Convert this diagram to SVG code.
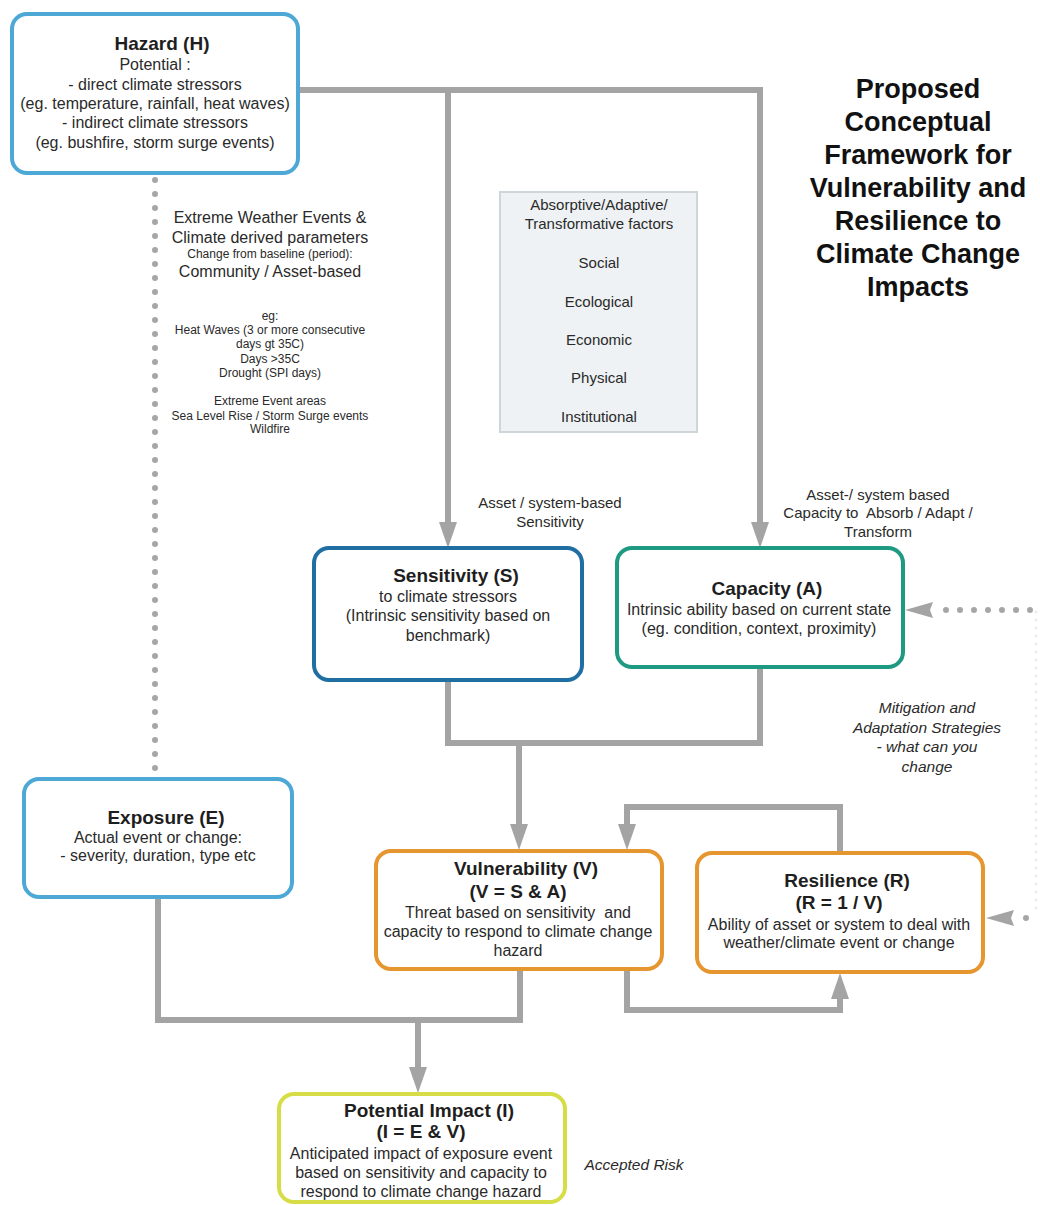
<svg xmlns="http://www.w3.org/2000/svg" width="1040" height="1205" viewBox="0 0 1040 1205">
  <style>
    text { font-family: "Liberation Sans", Arial, sans-serif; fill: #1e1e1e; text-anchor: middle; white-space: pre; }
    .t { font-size: 19px; font-weight: bold; }
    .b { font-size: 16px; fill: #2a2a2a; }
    .s { font-size: 12px; fill: #2a2a2a; }
    .f { font-size: 15px; fill: #2a2a2a; }
    .i { font-size: 15.5px; font-style: italic; fill: #2a2a2a; }
    .head { font-size: 27px; font-weight: bold; fill: #111; }
    .box { fill: #fff; stroke-width: 4; }
    .blue { stroke: #4ea8d6; }
    .navy { stroke: #1f6fa3; }
    .teal { stroke: #1e9a82; }
    .orange { stroke: #e6962f; }
    .lime { stroke: #d6dd46; }
    .wire { fill: none; stroke: #a4a4a4; stroke-width: 6; }
    .dots { fill: none; stroke: #a6a6a6; stroke-width: 6; stroke-linecap: round; stroke-dasharray: 0 14; }
    .faint { fill: none; stroke: #ececec; stroke-width: 3; stroke-linecap: round; stroke-dasharray: 0 8; }
  </style>
  <defs>
    <marker id="arrow" viewBox="0 0 26 18" refX="2" refY="9" markerWidth="26" markerHeight="18" markerUnits="userSpaceOnUse" orient="auto">
      <path d="M0,0 L26,9 L0,18 z" fill="#a4a4a4"/>
    </marker>
  </defs>

  <rect width="1040" height="1205" fill="#fff"/>

  <!-- connectors -->
  <g id="connectors">
    <path class="wire" d="M297,90 H760 V524" marker-end="url(#arrow)"/>
    <path class="wire" d="M448,90 V524" marker-end="url(#arrow)"/>
    <path class="wire" d="M448,680 V743 H760 V667"/>
    <path class="wire" d="M519,743 V826" marker-end="url(#arrow)"/>
    <path class="wire" d="M840,852 V807 H627 V826" marker-end="url(#arrow)"/>
    <path class="wire" d="M627,968 V1010 H840 V997" marker-end="url(#arrow)"/>
    <path class="wire" d="M158,897 V1020 H520 V968"/>
    <path class="wire" d="M418,1020 V1069" marker-end="url(#arrow)"/>
    <!-- dotted link hazard to exposure -->
    <path class="dots" d="M155,180 V774"/>
    <!-- faint dotted return along right edge -->
    <path class="faint" d="M1036,612 V916"/>
    <!-- dotted arrows into capacity and resilience -->
    <path class="dots" d="M946,610 H1040"/>
    <path d="M905,610 L933,602 L930,610 L933,618 z" fill="#a4a4a4"/>
    <path class="dots" d="M1026,918 H1040"/>
    <path d="M986,918 L1014,910 L1011,918 L1014,926 z" fill="#a4a4a4"/>
  </g>

  <!-- Hazard -->
  <g id="hazard">
    <rect class="box blue" x="12" y="14" width="286" height="159" rx="15"/>
    <text class="t" x="162" y="50">Hazard (H)</text>
    <text class="b" x="155" y="70">Potential :</text>
    <text class="b" x="155" y="90">- direct climate stressors</text>
    <text class="b" x="155" y="109">(eg. temperature, rainfall, heat waves)</text>
    <text class="b" x="155" y="128">- indirect climate stressors</text>
    <text class="b" x="155" y="148">(eg. bushfire, storm surge events)</text>
  </g>

  <!-- climate parameters notes -->
  <g id="parameters">
    <text class="b" x="270" y="223">Extreme Weather Events &amp;</text>
    <text class="b" x="270" y="243">Climate derived parameters</text>
    <text class="s" x="270" y="258">Change from baseline (period):</text>
    <text class="b" x="270" y="277">Community / Asset-based</text>
    <text class="s" x="270" y="320">eg:</text>
    <text class="s" x="270" y="334">Heat Waves (3 or more consecutive</text>
    <text class="s" x="270" y="348">days gt 35C)</text>
    <text class="s" x="270" y="363">Days &gt;35C</text>
    <text class="s" x="270" y="377">Drought (SPI days)</text>
    <text class="s" x="270" y="405">Extreme Event areas</text>
    <text class="s" x="270" y="420">Sea Level Rise / Storm Surge events</text>
    <text class="s" x="270" y="433">Wildfire</text>
  </g>

  <!-- factors panel -->
  <g id="factors">
    <rect x="500" y="192" width="197" height="240" fill="#eef2f4" stroke="#cfd6da" stroke-width="2"/>
    <text class="f" x="599" y="210">Absorptive/Adaptive/</text>
    <text class="f" x="599" y="229">Transformative factors</text>
    <text class="f" x="599" y="268">Social</text>
    <text class="f" x="599" y="307">Ecological</text>
    <text class="f" x="599" y="345">Economic</text>
    <text class="f" x="599" y="383">Physical</text>
    <text class="f" x="599" y="422">Institutional</text>
  </g>

  <!-- heading -->
  <g id="heading">
    <text class="head" x="918" y="98">Proposed</text>
    <text class="head" x="918" y="131">Conceptual</text>
    <text class="head" x="918" y="164">Framework for</text>
    <text class="head" x="918" y="197">Vulnerability and</text>
    <text class="head" x="918" y="230">Resilience to</text>
    <text class="head" x="918" y="263">Climate Change</text>
    <text class="head" x="918" y="296">Impacts</text>
  </g>

  <!-- connector labels -->
  <g id="labels">
    <text class="f" x="550" y="508">Asset / system-based</text>
    <text class="f" x="550" y="527">Sensitivity</text>
    <text class="f" x="878" y="500">Asset-/ system based</text>
    <text class="f" x="878" y="518">Capacity to  Absorb / Adapt /</text>
    <text class="f" x="878" y="537">Transform</text>
    <text class="i" x="927" y="713">Mitigation and</text>
    <text class="i" x="927" y="733">Adaptation Strategies</text>
    <text class="i" x="927" y="752">- what can you</text>
    <text class="i" x="927" y="772">change</text>
    <text class="i" x="634" y="1170">Accepted Risk</text>
  </g>

  <!-- Sensitivity -->
  <g id="sensitivity">
    <rect class="box navy" x="314" y="548" width="268" height="132" rx="15"/>
    <text class="t" x="456" y="582">Sensitivity (S)</text>
    <text class="b" x="448" y="602">to climate stressors</text>
    <text class="b" x="448" y="621">(Intrinsic sensitivity based on</text>
    <text class="b" x="448" y="641">benchmark)</text>
  </g>

  <!-- Capacity -->
  <g id="capacity">
    <rect class="box teal" x="617" y="548" width="286" height="119" rx="15"/>
    <text class="t" x="767" y="595">Capacity (A)</text>
    <text class="b" x="759" y="615">Intrinsic ability based on current state</text>
    <text class="b" x="759" y="634">(eg. condition, context, proximity)</text>
  </g>

  <!-- Exposure -->
  <g id="exposure">
    <rect class="box blue" x="24" y="779" width="268" height="118" rx="15"/>
    <text class="t" x="166" y="824">Exposure (E)</text>
    <text class="b" x="158" y="843">Actual event or change:</text>
    <text class="b" x="158" y="861">- severity, duration, type etc</text>
  </g>

  <!-- Vulnerability -->
  <g id="vulnerability">
    <rect class="box orange" x="376" y="851" width="286" height="118" rx="15"/>
    <text class="t" x="526" y="875">Vulnerability (V)</text>
    <text class="t" x="518" y="898">(V = S &amp; A)</text>
    <text class="b" x="518" y="918">Threat based on sensitivity  and</text>
    <text class="b" x="518" y="937">capacity to respond to climate change</text>
    <text class="b" x="518" y="956">hazard</text>
  </g>

  <!-- Resilience -->
  <g id="resilience">
    <rect class="box orange" x="697" y="853" width="286" height="119" rx="15"/>
    <text class="t" x="847" y="887">Resilience (R)</text>
    <text class="t" x="839" y="909">(R = 1 / V)</text>
    <text class="b" x="839" y="930">Ability of asset or system to deal with</text>
    <text class="b" x="839" y="948">weather/climate event or change</text>
  </g>

  <!-- Potential impact -->
  <g id="impact">
    <rect class="box lime" x="279" y="1094" width="286" height="108" rx="15"/>
    <text class="t" x="429" y="1117">Potential Impact (I)</text>
    <text class="t" x="421" y="1138">(I = E &amp; V)</text>
    <text class="b" x="421" y="1159">Anticipated impact of exposure event</text>
    <text class="b" x="421" y="1178">based on sensitivity and capacity to</text>
    <text class="b" x="421" y="1197">respond to climate change hazard</text>
  </g>
</svg>
